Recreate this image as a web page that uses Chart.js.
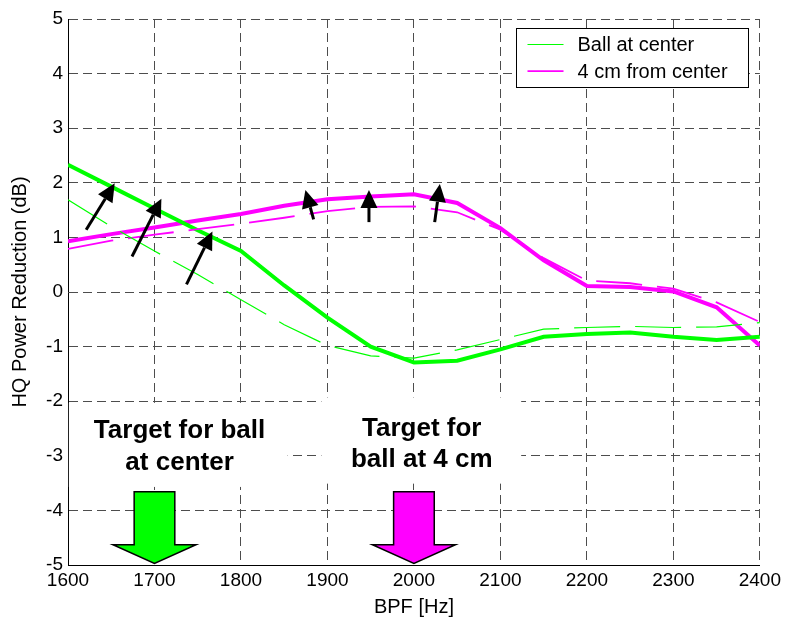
<!DOCTYPE html>
<html>
<head>
<meta charset="utf-8">
<script src="https://cdn.jsdelivr.net/npm/chart.js@4/dist/chart.umd.min.js"></script>
<style>
  html, body { margin: 0; padding: 0; background: #fff; }
  canvas { display: block; }
</style>
</head>
<body>
<canvas id="chart" width="785" height="622"></canvas>
<script>
// Blade-passing frequency sweep (Hz)
const bpfHz = [1600, 1650, 1700, 1750, 1800, 1850, 1900, 1950, 2000,
               2050, 2100, 2150, 2200, 2250, 2300, 2350, 2400];

// HQ power reduction (dB), thin dashed traces
const centerThin = [1.69, 1.20, 0.75, 0.32, -0.14, -0.60, -0.98, -1.17, -1.21,
                    -1.06, -0.87, -0.68, -0.65, -0.63, -0.65, -0.64, -0.56];
const offsetThin = [0.79, 0.94, 1.05, 1.15, 1.25, 1.36, 1.48, 1.56, 1.57,
                    1.46, 1.14, 0.62, 0.21, 0.16, 0.06, -0.19, -0.55];

// HQ power reduction (dB), thick solid traces
const centerThick = [2.33, 1.93, 1.53, 1.13, 0.75, 0.12, -0.47, -1.00, -1.29,
                     -1.26, -1.05, -0.82, -0.77, -0.74, -0.82, -0.88, -0.82];
const offsetThick = [0.93, 1.06, 1.18, 1.31, 1.43, 1.58, 1.70, 1.75, 1.79,
                     1.63, 1.17, 0.58, 0.11, 0.09, 0.01, -0.28, -0.98];

const seriesLabels = ['Ball at center', '4 cm from center'];

const xTicks = [1600, 1700, 1800, 1900, 2000, 2100, 2200, 2300, 2400];
const yTicks = [-5, -4, -3, -2, -1, 0, 1, 2, 3, 4, 5];

// Target frequencies and their captions
const targetHz = [1700, 2000];
const targetText = [['Target for ball', 'at center'], ['Target for', 'ball at 4 cm']];

// Pointer arrows: tail (Hz, dB) -> head (Hz, dB)
const pointerTail = [[1621, 1.14], [1674, 0.65], [1737, 0.14], [1884, 1.33], [1948, 1.28], [2024, 1.28]];
const pointerHead = [[1654, 1.99], [1708, 1.71], [1767, 1.11], [1874.5, 1.87], [1948, 1.87], [2030, 1.98]];

const GREEN = '#00ff00';
const MAGENTA = '#ff00ff';
const FONT = "'Liberation Sans', Arial, Helvetica, sans-serif";
Chart.defaults.font.family = FONT;

const toPoints = vals => bpfHz.map((f, i) => ({ x: f, y: vals[i] }));

function drawPointer(ctx, x0, y0, x1, y1) {
  const ang = Math.atan2(y1 - y0, x1 - x0);
  const L = 18, W = 8.5;
  const bx = x1 - L * Math.cos(ang), by = y1 - L * Math.sin(ang);
  ctx.beginPath();
  ctx.moveTo(x0, y0);
  ctx.lineTo(bx, by);
  ctx.lineWidth = 3;
  ctx.stroke();
  ctx.beginPath();
  ctx.moveTo(x1, y1);
  ctx.lineTo(bx + W * Math.sin(ang), by - W * Math.cos(ang));
  ctx.lineTo(bx - W * Math.sin(ang), by + W * Math.cos(ang));
  ctx.closePath();
  ctx.fill();
}

const annotations = {
  id: 'annotations',
  beforeDatasetsDraw(chart) {
    const { ctx, scales: { x, y } } = chart;
    // white caption panels over the grid
    const panels = [
      { x0: 1601, x1: 1854, y0: -2.03, y1: -3.57, cx: 1729, base: [-2.67, -3.26] },
      { x0: 1893, x1: 2124, y0: -1.93, y1: -3.51, cx: 2009, base: [-2.63, -3.21] }
    ];
    ctx.save();
    panels.forEach((p, i) => {
      const l = x.getPixelForValue(p.x0), r = x.getPixelForValue(p.x1);
      const t = y.getPixelForValue(p.y0), b = y.getPixelForValue(p.y1);
      ctx.fillStyle = '#fff';
      ctx.fillRect(l, t, r - l, b - t);
      ctx.fillStyle = '#000';
      ctx.font = 'bold 26px ' + FONT;
      ctx.textAlign = 'center';
      ctx.textBaseline = 'alphabetic';
      targetText[i].forEach((line, k) => {
        ctx.fillText(line, x.getPixelForValue(p.cx), y.getPixelForValue(p.base[k]));
      });
    });
    ctx.restore();
  },
  afterDatasetsDraw(chart) {
    const { ctx, scales: { x, y } } = chart;
    ctx.save();
    // block arrows marking the target frequencies
    const fills = [GREEN, MAGENTA];
    targetHz.forEach((f, i) => {
      const shaft = 23.5, wing = 48;
      const pts = [
        [f - shaft, -3.66], [f + shaft, -3.66], [f + shaft, -4.63], [f + wing, -4.63],
        [f, -4.97], [f - wing, -4.63], [f - shaft, -4.63]
      ];
      ctx.beginPath();
      pts.forEach(([px, py], k) => {
        const X = x.getPixelForValue(px), Y = y.getPixelForValue(py);
        if (k === 0) ctx.moveTo(X, Y); else ctx.lineTo(X, Y);
      });
      ctx.closePath();
      ctx.fillStyle = fills[i];
      ctx.fill();
      ctx.lineWidth = 1.5;
      ctx.lineJoin = 'miter';
      ctx.strokeStyle = '#000';
      ctx.stroke();
    });
    // black pointer arrows
    ctx.fillStyle = '#000';
    ctx.strokeStyle = '#000';
    ctx.lineCap = 'butt';
    pointerTail.forEach((tail, i) => {
      const head = pointerHead[i];
      drawPointer(ctx,
        x.getPixelForValue(tail[0]), y.getPixelForValue(tail[1]),
        x.getPixelForValue(head[0]), y.getPixelForValue(head[1]));
    });
    ctx.restore();
  },
  afterDraw(chart) {
    const { ctx, chartArea } = chart;
    // legend box in the upper right corner of the plot
    const w = 232, h = 59;
    const left = Math.round(chartArea.right - 12 - w) + 0.5;
    const top = Math.round(chartArea.top + 9) + 0.5;
    ctx.save();
    ctx.fillStyle = '#fff';
    ctx.fillRect(left, top, w, h);
    ctx.strokeStyle = '#000';
    ctx.lineWidth = 1;
    ctx.strokeRect(left, top, w, h);
    const seen = [];
    chart.data.datasets.forEach(ds => {
      if (seen.includes(ds.label)) return;
      seen.push(ds.label);
      const row = seen.length - 1;
      const cy = top + 16 + row * 26.7;
      ctx.beginPath();
      ctx.setLineDash(ds.borderDash || []);
      ctx.strokeStyle = ds.borderColor;
      ctx.lineWidth = ds.borderWidth;
      ctx.moveTo(left + 11, cy);
      ctx.lineTo(left + 47, cy);
      ctx.stroke();
      ctx.setLineDash([]);
      ctx.fillStyle = '#000';
      ctx.font = '20px ' + FONT;
      ctx.textAlign = 'left';
      ctx.textBaseline = 'middle';
      ctx.fillText(ds.label, left + 61, cy + 1);
    });
    ctx.restore();
  }
};

const gridColor = edge => ctx => (ctx.tick && ctx.tick.value === edge) ? 'rgba(0,0,0,0)' : '#4d4d4d';

new Chart(document.getElementById('chart'), {
  type: 'line',
  data: {
    datasets: [
      { label: seriesLabels[0], data: toPoints(centerThin), borderColor: GREEN, borderWidth: 1.2, borderDash: [46, 15] },
      { label: seriesLabels[1], data: toPoints(offsetThin), borderColor: MAGENTA, borderWidth: 1.8, borderDash: [46, 15] },
      { label: seriesLabels[0], data: toPoints(centerThick), borderColor: GREEN, borderWidth: 4 },
      { label: seriesLabels[1], data: toPoints(offsetThick), borderColor: MAGENTA, borderWidth: 4 }
    ]
  },
  options: {
    responsive: false,
    animation: false,
    events: [],
    elements: { point: { radius: 0 }, line: { tension: 0, fill: false } },
    layout: { padding: { top: 19, right: 24, left: 0, bottom: 0 } },
    plugins: { legend: { display: false }, tooltip: { enabled: false } },
    scales: {
      x: {
        type: 'linear', position: 'bottom', min: 1600, max: 2400,
        afterBuildTicks: s => { s.ticks = xTicks.map(v => ({ value: v })); },
        afterFit: s => { s.height = 57; },
        ticks: { color: '#000', font: { size: 19 }, padding: 4, maxRotation: 0, autoSkip: false, callback: v => String(v) },
        grid: { drawTicks: false, lineWidth: 1, color: gridColor(1600) },
        border: { display: true, color: '#000', width: 1, dash: [9, 5] },
        title: { display: true, text: 'BPF [Hz]', color: '#000', font: { size: 20 }, padding: { top: 0, bottom: 2.5 } }
      },
      y: {
        type: 'linear', position: 'left', min: -5, max: 5,
        afterBuildTicks: s => { s.ticks = yTicks.map(v => ({ value: v })); },
        afterFit: s => { s.width = 68; },
        ticks: { color: '#000', font: { size: 19 }, padding: 5, callback: v => String(v) },
        grid: { drawTicks: false, lineWidth: 1, color: gridColor(-5) },
        border: { display: true, color: '#000', width: 1, dash: [9, 5] },
        title: { display: true, text: 'HQ Power Reduction (dB)', color: '#000', font: { size: 20 }, padding: { top: 8.5, bottom: 0 } }
      }
    }
  },
  plugins: [annotations]
});
</script>
</body>
</html>
